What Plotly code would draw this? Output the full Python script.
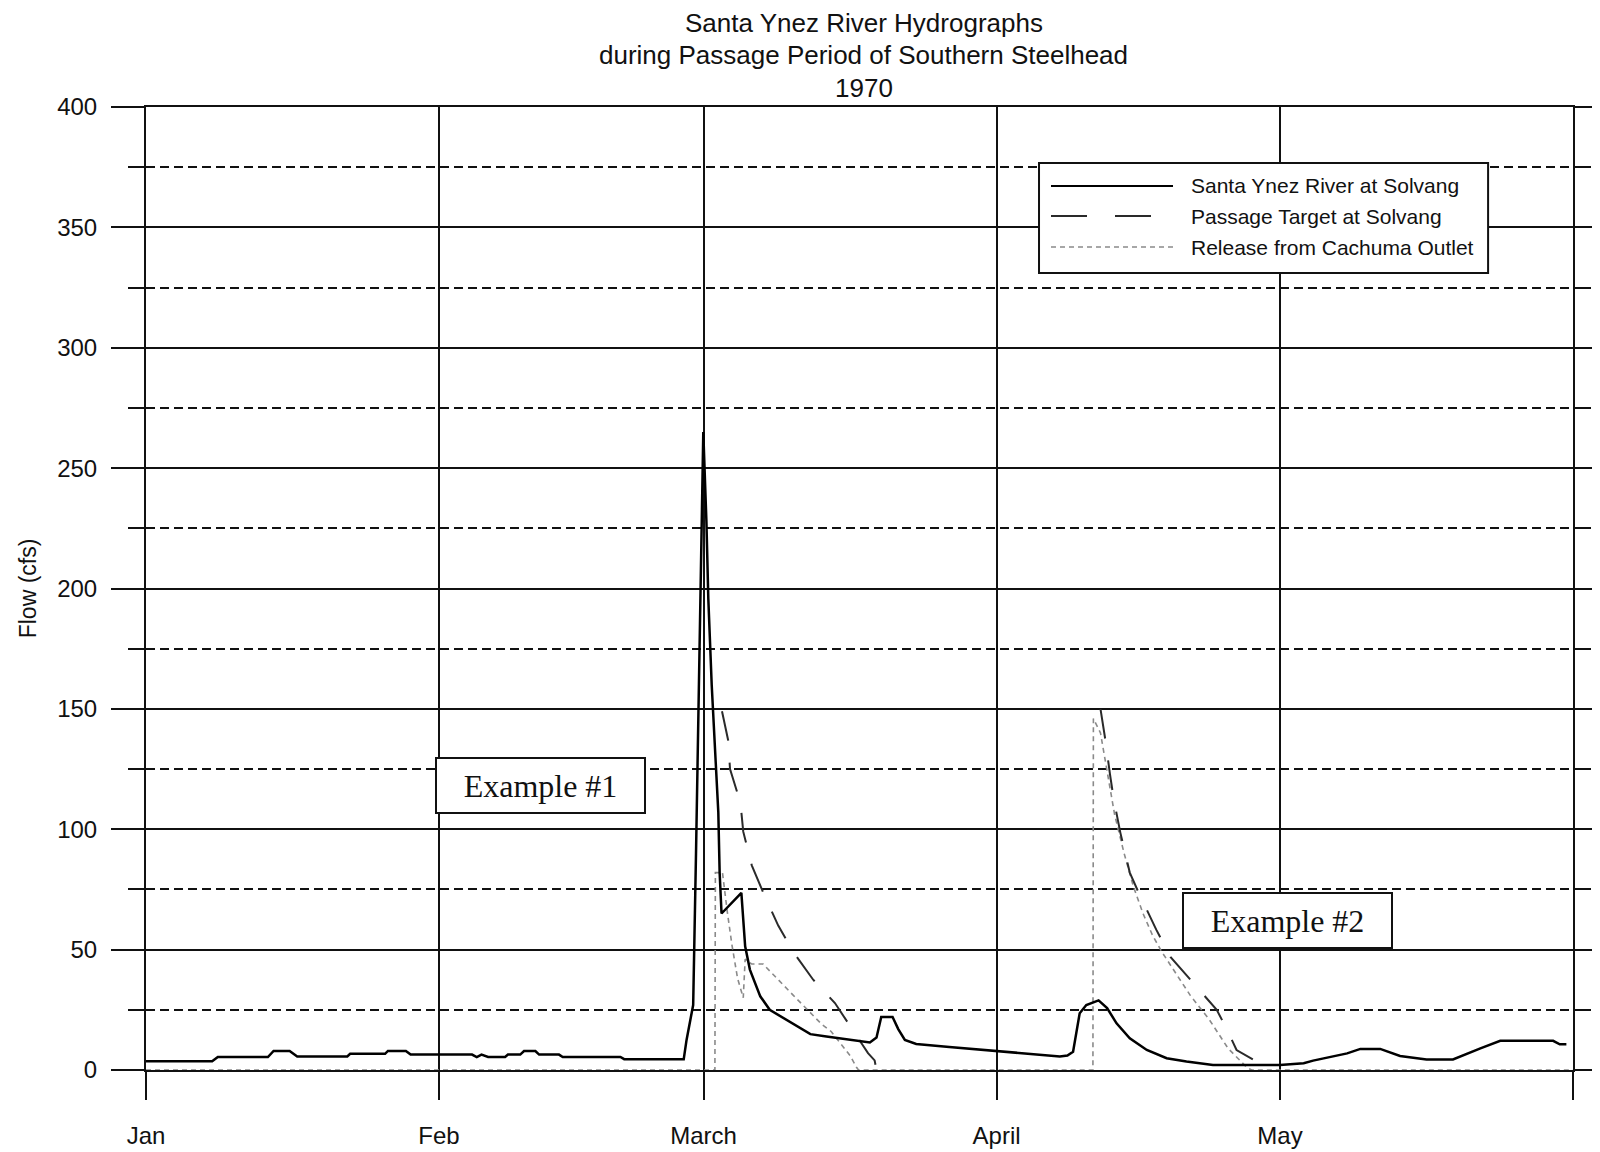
import pandas as pd
import plotly.graph_objects as go

# Santa Ynez River hydrographs, 1970 (x = days after Jan 1, y = cfs)
flow_day = [0, 7.0, 7.6, 12.9, 13.5, 15.2, 16.0, 21.3, 21.6, 25.3, 25.6, 27.5, 28.0, 34.5,
            35.0, 35.5, 36.2, 38.0, 38.3, 39.6, 40.0, 41.2, 41.6, 43.7, 44.1, 50.2, 50.6, 56.9,
            57.2, 57.57, 57.9, 58.2, 58.5, 58.8, 58.97, 59.3, 59.5, 59.86, 60.2, 60.56, 60.7,
            60.9, 63.0, 63.4, 63.9, 65.0, 66.0, 67.1, 68.9, 70.3, 72.0, 74.1, 76.6, 77.3, 77.8,
            79.0, 79.6, 80.3, 81.5, 85.0, 90.0, 94.0, 96.7, 97.5, 98.1, 98.8, 99.5, 100.8,
            101.7, 102.7, 104.1, 105.9, 108.0, 110.1, 112.9, 120.0, 122.5, 123.5, 125.6, 127.1,
            128.5, 130.6, 132.7, 135.5, 138.3, 139.8, 141.2, 143.3, 148.9, 149.6, 150.3]
flow_cfs = [3.6, 3.6, 5.4, 5.4, 7.9, 7.9, 5.6, 5.6, 6.7, 6.7, 7.9, 7.9, 6.4, 6.4,
            5.4, 6.4, 5.4, 5.4, 6.4, 6.4, 7.9, 7.9, 6.4, 6.4, 5.4, 5.4, 4.5, 4.5,
            12.5, 20.8, 27, 90, 162, 233, 265, 228, 196, 160, 135, 107, 82,
            65, 73.6, 51.4, 41.7, 30.6, 25, 22.5, 18.3, 14.9, 13.9, 12.8, 11.4, 13.5, 22,
            22, 17, 12.5, 10.8, 9.6, 8.0, 6.5, 5.6, 6.0, 7.6, 23.6, 27, 28.9,
            25.7, 19.4, 13.2, 8.3, 4.9, 3.5, 2.1, 2.1, 2.8, 3.9, 5.6, 6.9,
            8.75, 8.75, 5.8, 4.4, 4.4, 6.9, 9.0, 12.1, 12.1, 10.7, 10.7]

# passage target only defined during the two passage events (None = no target)
target_day = [60.95, 61.6, 61.8, 62.9, 63.2, 64.1, 65.5, 66.9, 68.5, 70.6, 72.9,
              74.7, 76.4, 77.1, 77.3, 77.4, 101.0, 101.5, 102.0, 102.4, 103.1, 104.1, 105.0,
              106.9, 108.4, 110.8, 113.3, 114.4, 115.4, 117.2, 117.5]
target_cfs = [149, 137, 125, 111, 99, 85, 72, 60, 49, 37.5, 27.8,
              17, 7, 4, 0, None, 150, 137.5, 123, 112.5, 98.6, 82, 74,
              58.3, 47, 36, 25, 16.7, 8.3, 4.2, 0]

release_day = [0, 60.2, 60.25, 61.0, 61.5, 62.0, 62.6, 63.2, 63.4, 64.1, 65.3, 66.5, 67.5,
               68.5, 69.5, 70.5, 71.5, 72.5, 73.5, 74.5, 75.2, 75.4, 100.2, 100.25, 101.0,
               101.7, 102.5, 103.5, 104.5, 105.5, 106.5, 107.5, 108.5, 109.5, 110.5, 111.5,
               112.5, 113.5, 114.5, 115.5, 116.5, 117.0, 151]
release_cfs = [0, 0, 82, 82, 66, 52, 38, 30, 46, 44, 44, 39, 35,
               31, 27, 23, 19, 16, 11, 6, 1, 0, 0, 146, 140,
               124, 106, 90, 76, 65, 56, 49, 43, 37, 31, 26,
               21, 15, 9, 5, 1, 0, 0]

month_ticks = ["1970-01-01", "1970-02-01", "1970-03-01", "1970-04-01", "1970-05-01", "1970-06-01"]
month_labels = ["Jan", "Feb", "March", "April", "May", ""]

series_names = ["Santa Ynez River at Solvang", "Passage Target at Solvang", "Release from Cachuma Outlet"]
title_lines = ["Santa Ynez River Hydrographs", "during Passage Period of Southern Steelhead", "1970"]

start = pd.Timestamp("1970-01-01")


def to_dates(days):
    return start + pd.to_timedelta(days, unit="D")


x_range = ["1970-01-01", "1970-06-01"]
ink = "#111111"

fig = go.Figure()
fig.add_trace(go.Scatter(x=to_dates(release_day), y=release_cfs, name=series_names[2], mode="lines",
                         line=dict(color="#8a8a8a", width=1.6, dash="5px,4px")))
fig.add_trace(go.Scatter(x=to_dates(target_day), y=target_cfs, name=series_names[1], mode="lines",
                         connectgaps=False,
                         line=dict(color="#2a2a2a", width=2, dash="30px,22px")))
fig.add_trace(go.Scatter(x=to_dates(flow_day), y=flow_cfs, name=series_names[0], mode="lines",
                         line=dict(color="#000000", width=2.5)))

# hand-drawn legend box (long line samples like the original)
lx0, lx1, ly0, ly1 = 0.6258, 0.9405, 0.8276, 0.9419
fig.add_shape(type="rect", xref="paper", yref="paper", x0=lx0, x1=lx1, y0=ly0, y1=ly1,
              line=dict(color=ink, width=2), fillcolor="white", layer="above")
row_y = [0.918, 0.8868, 0.8546]
row_styles = [dict(color="#000000", width=2),
              dict(color="#2a2a2a", width=2, dash="36px,28px"),
              dict(color="#8a8a8a", width=1.5, dash="5px,4px")]
for name, ry, st in zip(series_names, row_y, row_styles):
    fig.add_shape(type="line", xref="paper", yref="paper", x0=0.6342, x1=0.7197, y0=ry, y1=ry,
                  line=st, layer="above")
    fig.add_annotation(xref="paper", yref="paper", x=0.7309, y=ry, text=name, showarrow=False,
                       xanchor="left", yanchor="middle",
                       font=dict(family="Liberation Sans", size=21, color=ink))

# example labels
for label, xd, yv in [("Example #1", "1970-02-11 17:00", 118), ("Example #2", "1970-05-01 20:00", 62.3)]:
    fig.add_annotation(x=xd, y=yv, text=label, showarrow=False, bgcolor="white",
                       bordercolor=ink, borderwidth=2, borderpad=2, width=203, height=49,
                       font=dict(family="Liberation Serif", size=32, color=ink))

# three-line title above the plot, one annotation per line
for line, shift in zip(title_lines, [84, 52, 19]):
    fig.add_annotation(xref="paper", yref="paper", x=0.503, y=1, yshift=shift,
                       xanchor="center", yanchor="middle", showarrow=False, text=line,
                       font=dict(family="Liberation Sans", size=26, color=ink))

# page body adds an 8px margin, so the figure is 8px smaller on each side
fig.update_layout(
    width=1592, height=1144,
    margin=dict(l=138, r=27, t=99, b=82, autoexpand=False),
    paper_bgcolor="white", plot_bgcolor="white",
    showlegend=False,
    font=dict(family="Liberation Sans", color=ink),
    xaxis=dict(type="date", range=x_range, tickvals=month_ticks, ticktext=month_labels,
               showgrid=True, gridcolor=ink, gridwidth=2, automargin=False,
               showline=True, linecolor=ink, linewidth=2, mirror=True,
               ticks="outside", ticklen=28, tickwidth=2, tickcolor=ink,
               ticklabelstandoff=15, tickfont=dict(size=24, color=ink), zeroline=False),
    xaxis2=dict(type="date", range=x_range, overlaying="x", side="top", tickvals=month_ticks,
                showticklabels=False, showgrid=False, showline=False, zeroline=False,
                automargin=False, ticks="outside", ticklen=11, tickwidth=2, tickcolor=ink),
    yaxis=dict(range=[0, 400], dtick=50, tick0=0, automargin=False,
               showgrid=True, gridcolor=ink, gridwidth=2,
               showline=True, linecolor=ink, linewidth=2, mirror="ticks",
               ticks="outside", ticklen=33, tickwidth=2, tickcolor=ink,
               ticklabelstandoff=9, tickfont=dict(size=24, color=ink), zeroline=False,
               minor=dict(dtick=25, ticks="outside", ticklen=16, tickwidth=2, tickcolor=ink,
                          showgrid=True, gridcolor=ink, gridwidth=2, griddash="9px,5px"),
               title=dict(text="Flow (cfs)", standoff=14,
                          font=dict(family="Liberation Sans", size=23, color=ink))),
)

fig.write_html("out.html")
